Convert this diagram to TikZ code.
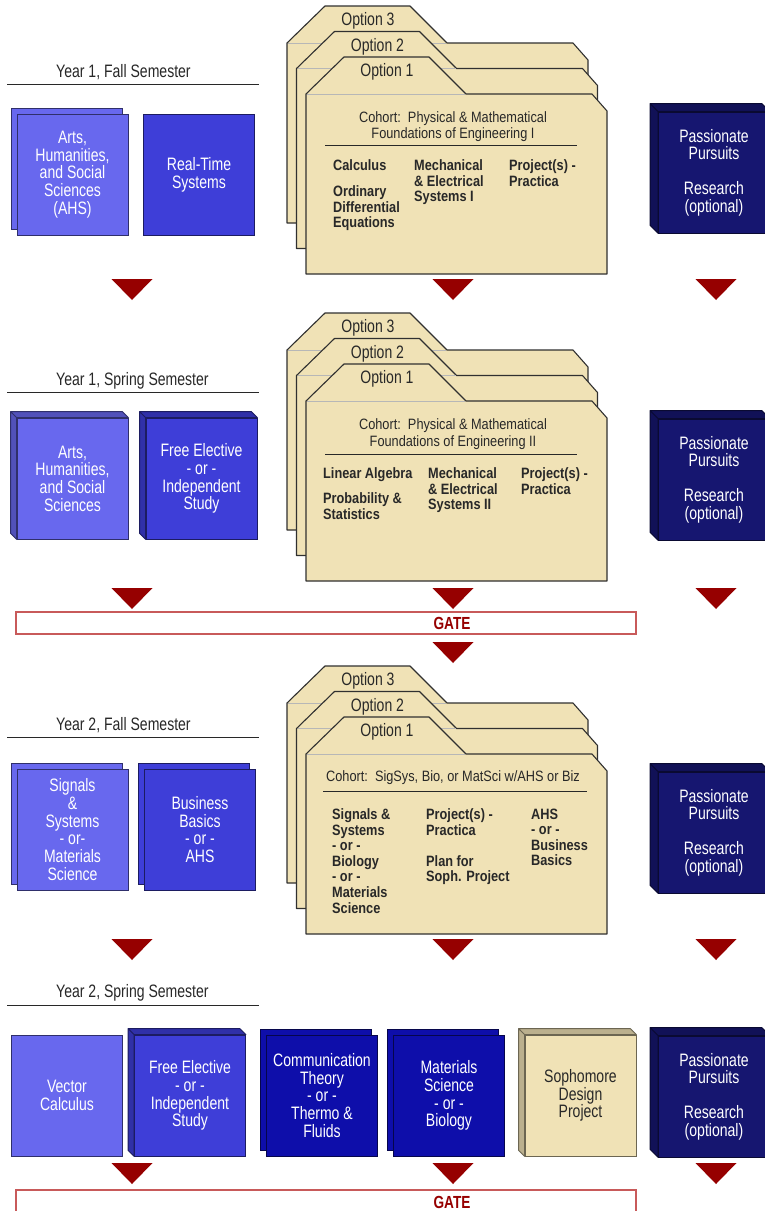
\documentclass[tikz,border=0pt]{standalone}
\usepackage{fontspec}
\setmainfont{Liberation Sans}[FakeStretch=0.85]
\newfontfamily\narrowsans{Liberation Sans}[FakeStretch=0.78]
\usepackage{xcolor}

\definecolor{lightblue}{RGB}{104,104,238}
\definecolor{midblue}{RGB}{62,62,216}
\definecolor{deepblue}{RGB}{14,14,170}
\definecolor{navyblue}{RGB}{22,22,112}
\definecolor{boxedge}{RGB}{24,24,96}
\definecolor{folderfill}{RGB}{240,226,182}
\definecolor{folderedge}{RGB}{48,48,48}
\definecolor{inkgray}{RGB}{40,40,40}
\definecolor{gatered}{RGB}{150,0,0}
\definecolor{gateedge}{RGB}{200,90,90}

\tikzset{
  box/.style={draw=boxedge, line width=0.8pt, minimum width=111pt, minimum height=121pt,
    inner sep=0pt, align=center, text=white, font=\narrowsans\fontsize{18}{17.7}\selectfont},
  ink folderfill/.style={text=inkgray},
  folder/.style={fill=folderfill, draw=folderedge, line width=1.1pt, line join=round},
  optlabel/.style={text=inkgray, inner sep=0pt, font=\narrowsans\fontsize{18}{18}\selectfont},
  cohort/.style={text=inkgray, align=center, inner sep=0pt, font=\fontsize{15}{16.5}\selectfont},
  course/.style={text=inkgray, align=left, anchor=north west, inner sep=0pt,
    font=\bfseries\fontsize{15}{15.6}\selectfont},
  header/.style={anchor=west, inner sep=0pt, text=inkgray, font=\narrowsans\fontsize{18}{18}\selectfont},
  rule/.style={draw=inkgray, line width=1pt},
  gate/.style={draw=gateedge, fill=white, line width=1.2pt, minimum width=620pt,
    minimum height=22pt, inner sep=0pt},
  gatetext/.style={text=gatered, inner sep=0pt, font=\narrowsans\bfseries\fontsize{17.5}{18}\selectfont},
}

\newcommand\stacked[4]{%
  \node[box, fill=#2, draw=#2!45!black, xshift=-6pt, yshift=6pt] (#1back) at (#3) {};
  \node[box, fill=#2, draw=#2!45!black] (#1) at (#3) {#4};}

\newcommand\solid[5][6]{%
  \node[box, fill=#3, draw=#3!45!black, ink #3/.try] (#2) at (#4) {#5};
  \filldraw[fill=#3!78!black, draw=#3!45!black, line width=0.8pt, line join=round]
    (#2.north west) -- ++(-#1,-#1) -- ([shift={(-#1,-#1)}]#2.north east) -- (#2.north east) -- cycle
    (#2.north west) -- ++(-#1,-#1) -- ([shift={(-#1,-#1)}]#2.south west) -- (#2.south west) -- cycle;}

\newcommand\folder[4]{%
  \filldraw[folder] (#1,#2) -- ++(38,-37) -- ++(85,0) -- ++(37,37) -- ++(126,0)
    -- ++(15,17) -- ++(0,163) -- ++(-301,0) -- cycle;
  \draw[folderedge!35, line width=0.5pt] (#1,#2) ++(1,0) -- ++(158,0);
  \path (#1,#2) ++(81,-22) node[optlabel] (opt#3#4) {Option #4};}

\newcommand\redtri[2]{\fill[gatered] (#1-20.5,#2) -- (#1+20.5,#2) -- (#1,#2+21) -- cycle;}

\begin{document}
\begin{tikzpicture}[x=1pt, y=-1pt]
\fill[white] (0,0) rectangle (765,1211);
\useasboundingbox (0,0) rectangle (765,1211);

\foreach \r/\dy in {A/0, B/307, C/660}{
  \foreach \n [count=\i from 0] in {3,2,1}{
    \folder{287+9.5*\i}{43+25.5*\i+\dy}{\r}{\n}}}

\node[header] (hdA) at (56,72) {Year 1, Fall Semester};
\draw[rule] (7,84) -- (259,84);
\stacked{ahsA}{lightblue}{72.5,174.5}{Arts,\\Humanities,\\and Social\\Sciences\\(AHS)}
\node[box, fill=midblue, draw=midblue!45!black] (rtA) at (199,174.5) {Real-Time\\Systems};
\node[cohort] (cohA) at (453,126.5) {Cohort:\ \ Physical \& Mathematical\\Foundations of Engineering I};
\draw[rule] (325,145) -- (577,145);
\node[course] (colA1) at (333,159.5) {Calculus\\[10.5pt]Ordinary\\Differential\\Equations};
\node[course] (colA2) at (414,159.5) {Mechanical\\\& Electrical\\Systems I};
\node[course] (colA3) at (509,159.5) {Project(s) -\\Practica};
\solid[8]{ppA}{navyblue}{714,172.5}{Passionate\\Pursuits\\[17pt]Research\\(optional)}

\node[header] (hdB) at (56,381) {Year 1, Spring Semester};
\draw[rule] (7,392) -- (259,392);
\solid{ahsB}{lightblue}{72.5,478.5}{Arts,\\Humanities,\\and Social\\Sciences}
\solid{freeB}{midblue}{201.5,478.5}{Free Elective\\- or -\\Independent\\Study}
\node[cohort] (cohB) at (453,434) {Cohort:\ \ Physical \& Mathematical\\Foundations of Engineering II};
\draw[rule] (325,454) -- (577,454);
\node[course] (colB1) at (323,467.5) {Linear Algebra\\[9.5pt]Probability \&\\Statistics};
\node[course] (colB2) at (428,467.5) {Mechanical\\\& Electrical\\Systems II};
\node[course] (colB3) at (521,467.5) {Project(s) -\\Practica};
\solid[8]{ppB}{navyblue}{714,479.5}{Passionate\\Pursuits\\[17pt]Research\\(optional)}

\node[gate] (gateA) at (326,623) {};
\node[gatetext] (gateAtxt) at (452,623.5) {GATE};

\node[header] (hdC) at (56,725) {Year 2, Fall Semester};
\draw[rule] (7,737) -- (259,737);
\stacked{sigC}{lightblue}{72.5,829.5}{Signals\\\&\\Systems\\- or-\\Materials\\Science}
\stacked{bizC}{midblue}{200,829.5}{Business\\Basics\\- or -\\AHS}
\node[cohort] (cohC) at (453,778) {Cohort:\ \ SigSys, Bio, or MatSci w/AHS or Biz};
\draw[rule] (323,791) -- (587,791);
\node[course] (colC1) at (332,808.5) {Signals \&\\Systems\\- or -\\Biology\\- or -\\Materials\\Science};
\node[course] (colC2) at (426,808.5) {Project(s) -\\Practica\\[15.5pt]Plan for\\Soph. Project};
\node[course] (colC3) at (531,808.5) {AHS\\- or -\\Business\\Basics};
\solid[8]{ppC}{navyblue}{714,832.5}{Passionate\\Pursuits\\[17pt]Research\\(optional)}

\node[header] (hdD) at (56,993) {Year 2, Spring Semester};
\draw[rule] (7,1005) -- (259,1005);
\node[box, fill=lightblue, draw=lightblue!45!black] (vecD) at (67,1095.5) {Vector\\Calculus};
\solid{freeD}{midblue}{190,1095.5}{Free Elective\\- or -\\Independent\\Study}
\stacked{commD}{deepblue}{322,1095.5}{Communication\\Theory\\- or -\\Thermo \&\\Fluids}
\stacked{matD}{deepblue}{449,1095.5}{Materials\\Science\\- or -\\Biology}
\solid{sophD}{folderfill}{580.5,1095.5}{Sophomore\\Design\\Project}
\solid[8]{ppD}{navyblue}{714,1096.5}{Passionate\\Pursuits\\[17pt]Research\\(optional)}

\node[gate] (gateB) at (326,1201) {};
\node[gatetext] (gateBtxt) at (452,1202) {GATE};

\foreach \x/\y in {132/279, 453/279, 716/279, 132/588, 453/588, 716/588, 453/642,
  132/939, 453/939, 716/939, 132/1163, 453/1163, 716/1163}{\redtri{\x}{\y}}

\end{tikzpicture}
\end{document}
